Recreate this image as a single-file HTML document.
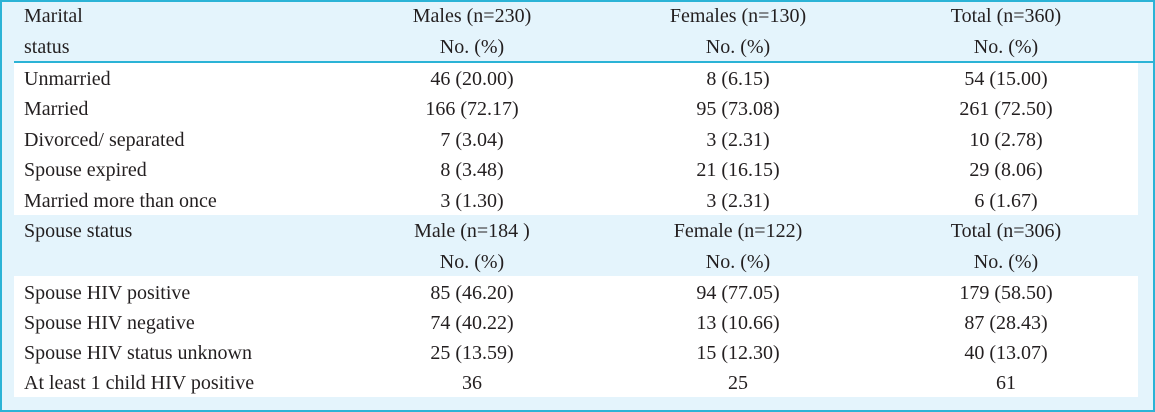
<!DOCTYPE html>
<html><head><meta charset="utf-8"><style>
body{margin:0;width:1155px;height:412px;overflow:hidden;background:#fff;}
#frame{position:absolute;left:0;top:0;width:1151px;height:408px;border:2px solid #2bb3d6;background:#e4f4fc;}
.white{position:absolute;left:14px;width:1124px;background:#fff;}
.line{position:absolute;left:14px;width:1139px;height:2px;background:#2bb3d6;}
.t{position:absolute;font-family:"Liberation Serif",serif;font-size:20px;color:#231f20;white-space:nowrap;line-height:20px;}
.l{left:24px;}
.c{transform:translateX(-50%);}
</style></head><body>
<div id="frame"></div>
<div class="line" style="top:61px"></div>
<div class="white" style="top:63px;height:152px"></div>
<div class="white" style="top:276px;height:121px"></div>
<div id="txt"></div>
<script>
const rows=[
 [16,"Marital","Males (n=230)","Females (n=130)","Total (n=360)"],
 [47,"status","No. (%)","No. (%)","No. (%)"],
 [79,"Unmarried","46 (20.00)","8 (6.15)","54 (15.00)"],
 [109,"Married","166 (72.17)","95 (73.08)","261 (72.50)"],
 [140,"Divorced/ separated","7 (3.04)","3 (2.31)","10 (2.78)"],
 [170,"Spouse expired","8 (3.48)","21 (16.15)","29 (8.06)"],
 [201,"Married more than once","3 (1.30)","3 (2.31)","6 (1.67)"],
 [231,"Spouse status","Male (n=184 )","Female (n=122)","Total (n=306)"],
 [262,"","No. (%)","No. (%)","No. (%)"],
 [293,"Spouse HIV positive","85 (46.20)","94 (77.05)","179 (58.50)"],
 [323,"Spouse HIV negative","74 (40.22)","13 (10.66)","87 (28.43)"],
 [353,"Spouse HIV status unknown","25 (13.59)","15 (12.30)","40 (13.07)"],
 [383,"At least 1 child HIV positive","36","25","61"]
];
const cols=[472,738,1006];
const box=document.getElementById('txt');
rows.forEach((r,i)=>{
 const a=document.createElement('div');a.className='t l';a.style.top=(r[0]-10)+'px';a.textContent=r[1];
 
 
 box.appendChild(a);
 for(let k=0;k<3;k++){
  const d=document.createElement('div');d.className='t c';d.style.top=(r[0]-10)+'px';d.style.left=cols[k]+'px';d.textContent=r[2+k];
  
  
  box.appendChild(d);
 }
});
</script>
</body></html>
